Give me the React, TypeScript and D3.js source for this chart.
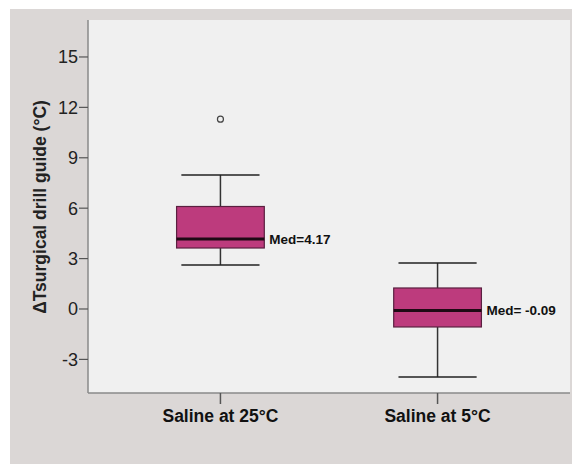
import React from "react";
import * as d3 from "d3";

const categories = ["Saline at 25°C", "Saline at 5°C"];
const q1 = [3.63, -1.07];
const medians = [4.17, -0.09];
const q3 = [6.1, 1.25];
const whiskLow = [2.62, -4.05];
const whiskHigh = [7.98, 2.74];
const outliers = [[11.3], []];
const medLabels = ["Med=4.17", "Med= -0.09"];
const yTicks = [-3, 0, 3, 6, 9, 12, 15];

export default function App() {
  const W = 572, H = 464;
  const left = 88, right = 570, top = 20, bottom = 393;
  const y = d3.scaleLinear().domain([-5, 17.2]).range([bottom, top]);
  const x = d3.scalePoint<string>().domain(categories).range([left, right]).padding(0.61);
  const step = x.step();
  const bw = step * 0.404;
  const cap = step * 0.18;
  const font = "Arial, 'Liberation Sans', sans-serif";
  return (
    <svg width={W} height={H} style={{ position: "absolute", left: 0, top: 0 }} fontFamily={font}>
      <rect x={0} y={0} width={W} height={H} fill="#ffffff" />
      <rect x={10} y={9} width={W - 10} height={H - 9} fill="#dbd7d6" />
      <rect x={left} y={top} width={right - left} height={bottom - top} fill="#f0f0f0" />
      <line x1={left} x2={left} y1={top} y2={bottom} stroke="#8a8a8a" strokeWidth={1.5} />
      <line x1={left} x2={right} y1={bottom} y2={bottom} stroke="#8a8a8a" strokeWidth={1.5} />
      {yTicks.map((t) => (
        <g key={t}>
          <line x1={left - 9} x2={left} y1={y(t)} y2={y(t)} stroke="#555" strokeWidth={1.2} />
          <text x={left - 10} y={y(t)} dy="0.36em" textAnchor="end" fontSize={18} fill="#222">
            {t}
          </text>
        </g>
      ))}
      <text
        transform={`translate(40,207) rotate(-90)`}
        textAnchor="middle"
        dy="0.36em"
        fontSize={17.5}
        fontWeight="bold"
        fill="#222"
      >
        ΔTsurgical drill guide (°C)
      </text>
      {categories.map((c, i) => {
        const cx = x(c) as number;
        return (
          <g key={c}>
            <line x1={cx} x2={cx} y1={bottom} y2={bottom + 11} stroke="#555" strokeWidth={1.5} />
            <text x={cx} y={bottom + 29} textAnchor="middle" fontSize={17.5} fontWeight="bold" fill="#111">
              {c}
            </text>
            <line x1={cx} x2={cx} y1={y(q3[i])} y2={y(whiskHigh[i])} stroke="#333" strokeWidth={1.5} />
            <line x1={cx} x2={cx} y1={y(q1[i])} y2={y(whiskLow[i])} stroke="#333" strokeWidth={1.5} />
            <line x1={cx - cap} x2={cx + cap} y1={y(whiskHigh[i])} y2={y(whiskHigh[i])} stroke="#222" strokeWidth={1.5} />
            <line x1={cx - cap} x2={cx + cap} y1={y(whiskLow[i])} y2={y(whiskLow[i])} stroke="#222" strokeWidth={1.5} />
            <rect
              x={cx - bw / 2}
              y={y(q3[i])}
              width={bw}
              height={y(q1[i]) - y(q3[i])}
              fill="#bd3b7d"
              stroke="#5a2040"
              strokeWidth={1.2}
            />
            <line x1={cx - bw / 2} x2={cx + bw / 2} y1={y(medians[i])} y2={y(medians[i])} stroke="#1e0a14" strokeWidth={3} />
            <text x={cx + bw / 2 + 5} y={y(medians[i])} dy="0.36em" fontSize={13.5} fontWeight="bold" fill="#111">
              {medLabels[i]}
            </text>
            {outliers[i].map((o, k) => (
              <circle key={k} cx={cx} cy={y(o)} r={3} fill="none" stroke="#444" strokeWidth={1.2} />
            ))}
          </g>
        );
      })}
    </svg>
  );
}
